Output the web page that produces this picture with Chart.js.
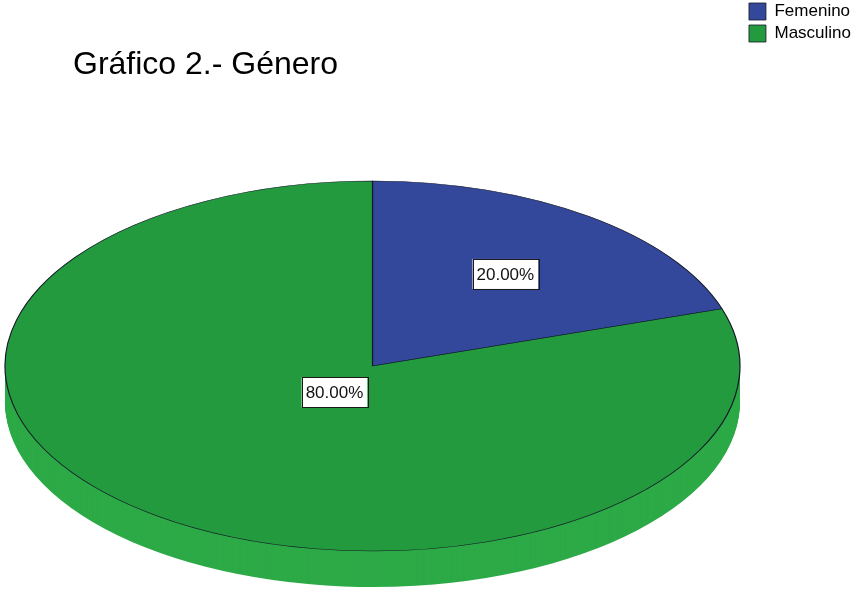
<!DOCTYPE html>
<html lang="es">
<head>
<meta charset="UTF-8">
<script src="https://cdn.jsdelivr.net/npm/chart.js"></script>
<style>
  body { margin: 0; background: #fff; }
</style>
</head>
<body>
<canvas id="myChart" width="851" height="591"></canvas>
<script>
// data
const categories = ['Femenino', 'Masculino']
const percents = [20, 80]
const percentLabels = ['20.00%', '80.00%']

// colours
const topColors = ['#34489b', '#229a3d']
const sideColors = ['#2b3d85', '#2daa47']

const FONT = '"Liberation Sans", Arial, sans-serif'

// squash the round pie into a flat ellipse and give it a side
const pie3d = {
  id: 'pie3d',
  beforeDatasetsDraw(chart, args, opts) {
    const ctx = chart.ctx
    const arcs = chart.getDatasetMeta(0).data
    const R = arcs[0].outerRadius
    ctx.save()
    ctx.translate(opts.cx, opts.cy)
    ctx.scale(opts.rx / R, opts.ry / R)
    ctx.translate(-arcs[0].x, -arcs[0].y)
    for (let d = opts.depth; d > 0; d--) {
      const dy = d * R / opts.ry
      arcs.forEach((arc, i) => {
        ctx.beginPath()
        ctx.moveTo(arc.x, arc.y + dy)
        ctx.arc(arc.x, arc.y + dy, R, arc.startAngle, arc.endAngle)
        ctx.closePath()
        ctx.fillStyle = sideColors[i]
        ctx.fill()
      })
    }
  },
  afterDatasetsDraw(chart, args, opts) {
    const ctx = chart.ctx
    ctx.restore()
    const arcs = chart.getDatasetMeta(0).data
    ctx.save()
    ctx.font = '17px ' + FONT
    ctx.textAlign = 'center'
    ctx.textBaseline = 'middle'
    arcs.forEach((arc, i) => {
      const mid = (arc.startAngle + arc.endAngle) / 2
      const f = opts.labelRadius[i]
      const x = opts.cx + Math.cos(mid) * opts.rx * f
      const y = opts.cy + Math.sin(mid) * opts.ry * f
      const w = ctx.measureText(percentLabels[i]).width + 8
      const h = 30
      ctx.fillStyle = '#fff'
      ctx.fillRect(x - w / 2, y - h / 2, w, h)
      ctx.strokeStyle = '#1a1a1a'
      ctx.lineWidth = 1
      ctx.strokeRect(Math.round(x - w / 2) + 0.5, Math.round(y - h / 2) + 0.5, Math.round(w), h)
      ctx.fillStyle = '#111'
      ctx.fillText(percentLabels[i], x, y + 1)
    })
    ctx.restore()
  }
}

new Chart(document.getElementById('myChart'), {
  type: 'pie',
  data: {
    labels: categories,
    datasets: [{
      data: percents,
      backgroundColor: topColors,
      borderColor: '#15182a',
      borderWidth: 0.8,
      hoverOffset: 0,
      clip: false
    }]
  },
  options: {
    responsive: false,
    animation: false,
    events: [],
    layout: { padding: { left: 73, top: -2, right: -10, bottom: 0 } },
    plugins: {
      title: {
        display: true,
        text: 'Gráfico 2.- Género',
        align: 'start',
        color: '#000',
        font: { family: FONT, size: 32, weight: 'normal' },
        padding: { top: 48, bottom: 10 }
      },
      legend: {
        position: 'right',
        align: 'start',
        labels: {
          boxWidth: 17,
          boxHeight: 17,
          padding: 5,
          color: '#000',
          font: { family: FONT, size: 17 }
        }
      },
      tooltip: { enabled: false },
      pie3d: {
        cx: 372.5,
        cy: 366,
        rx: 367.5,
        ry: 185,
        depth: 36,
        labelRadius: [0.615, 0.176]
      }
    }
  },
  plugins: [pie3d]
})
</script>
</body>
</html>
